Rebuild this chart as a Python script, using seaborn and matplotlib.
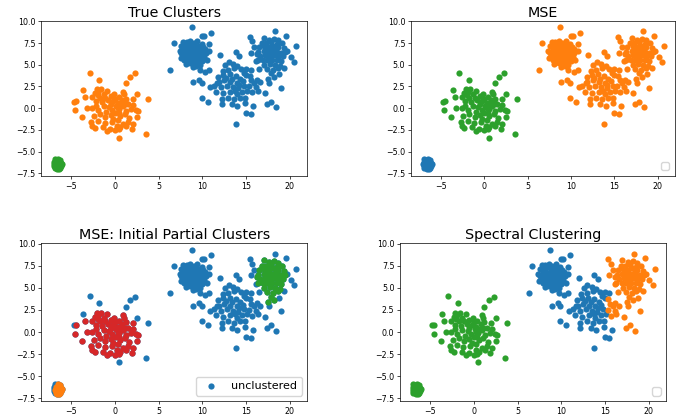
import numpy as np
import seaborn as sns
from matplotlib import pyplot as plt

# point clouds, (x, y) pairs
tiny_core = [
    (-6.7, -6.15), (-6.55, -6.1), (-6.35, -6.15), (-6.15, -6.3), (-6.5, -5.9),
    (-6.3, -6.0), (-6.8, -6.4), (-6.6, -6.35), (-6.4, -6.4), (-6.2, -6.5),
    (-6.05, -6.45), (-6.75, -6.65), (-6.55, -6.6), (-6.35, -6.7), (-6.15, -6.65),
    (-6.7, -6.85), (-6.5, -6.9), (-6.3, -6.85), (-6.6, -7.0), (-6.45, -6.5),
    (-6.65, -6.25), (-6.25, -6.3), (-6.85, -6.55), (-6.4, -7.0),
]
tiny_rim = [
    (-6.9, -5.9), (-6.95, -6.2), (-7.0, -6.45), (-6.95, -6.7), (-6.9, -6.9),
    (-6.75, -5.95),
]
center_core = [
    (-2.1, 2.2), (-1.6, 2.2), (-0.9, 2.0), (-1.9, 1.9), (-2.3, 1.7),
    (-2.6, 1.3), (-2.0, 1.5), (-1.3, 1.6), (-0.5, 1.4), (0.4, 1.3),
    (1.0, 1.6), (1.2, 1.1), (2.0, 1.0), (-0.1, 1.6), (-1.7, 1.2), (0.9, 1.9),
    (-4.5, 0.85), (-3.4, 1.3), (-2.2, 0.8), (-1.5, 0.7), (-0.8, 0.9),
    (-0.2, 0.8), (0.3, 0.6), (0.8, 0.9), (1.5, 0.5), (2.1, 0.4), (-1.1, 1.2),
    (0.0, 1.1), (-4.6, -0.25), (-3.2, 0.05), (-2.6, 0.0), (-1.9, -0.2),
    (-1.3, 0.2), (-0.7, 0.1), (-0.3, -0.2), (0.1, 0.3), (0.5, -0.1),
    (0.9, 0.2), (1.3, -0.3), (1.8, -0.1), (2.4, -0.25), (2.6, -0.3),
    (-1.0, -0.4), (0.3, 0.0), (0.7, 0.4), (-0.5, 0.5), (1.1, 0.5), (-2.2, 0.3),
    (-3.8, -1.0), (-2.4, -0.9), (-1.7, -0.7), (-1.1, -1.0), (-0.5, -0.8),
    (0.0, -0.6), (0.6, -0.9), (1.1, -0.7), (1.6, -1.1), (2.5, -1.05),
    (-0.2, -1.2), (0.4, -0.5), (-2.7, -1.6), (-1.9, -1.5), (-1.2, -1.7),
    (-0.4, -1.6), (0.3, -1.4), (0.9, -1.8), (1.5, -1.6), (-2.6, -2.0),
    (2.1, -1.8), (0.2, -2.0), (-2.3, -2.3), (-1.4, -2.2), (-0.6, -2.4),
    (0.0, -2.55), (0.4, -2.45), (1.3, -2.05), (1.9, -2.35), (-0.9, -2.6),
    (0.6, -2.2),
]
center_edge = [
    (-2.9, 4.1), (-1.8, 3.25), (-3.65, 2.05), (-4.75, 0.75), (1.7, 3.6),
    (2.3, 4.0), (1.2, 2.85), (2.5, 1.6), (3.8, 1.05), (3.6, -2.95), (0.5, -3.4),
]
left_blob = [
    (8.75, 9.3), (10.0, 8.25), (10.2, 8.25), (11.0, 8.7), (6.7, 7.45),
    (6.3, 4.45), (10.8, 7.35), (10.8, 6.55), (12.0, 6.1), (10.8, 4.4),
    (9.7, 4.4), (10.3, 4.15), (8.9, 3.0), (9.6, 3.3), (9.9, 2.9),
    (7.8, 7.6), (8.2, 7.6), (8.6, 7.7), (9.0, 7.5), (9.4, 7.7), (9.9, 7.4),
    (7.6, 7.1), (8.0, 7.2), (8.4, 7.3), (8.8, 7.1), (9.2, 7.2), (9.6, 7.1),
    (10.1, 7.0), (7.4, 6.6), (7.9, 6.8), (8.3, 6.8), (8.7, 6.7), (9.1, 6.8),
    (9.5, 6.7), (9.9, 6.6), (10.3, 6.8), (7.6, 6.3), (8.0, 6.4), (8.4, 6.4),
    (8.8, 6.3), (9.2, 6.4), (9.6, 6.3), (10.0, 6.2), (10.4, 6.3), (7.8, 5.9),
    (8.2, 6.0), (8.6, 6.0), (9.0, 5.9), (9.4, 6.0), (9.8, 5.8), (10.2, 5.9),
    (7.9, 5.5), (8.3, 5.6), (8.7, 5.5), (9.1, 5.6), (9.5, 5.4), (10.0, 5.4),
    (8.1, 5.1), (8.6, 5.2), (9.2, 5.1), (9.7, 5.0), (8.9, 4.7), (9.3, 4.9),
    (8.5, 6.6), (9.0, 6.1), (8.1, 6.9), (9.7, 6.9), (8.9, 5.2), (9.4, 6.5),
    (8.3, 5.3), (7.5, 5.8), (10.5, 5.6),
]
middle_west = [
    (13.8, 6.45), (14.2, 6.0), (13.0, 5.3), (12.6, 5.0), (13.5, 5.1),
    (14.0, 4.9), (12.3, 4.3), (12.9, 4.4), (13.6, 4.6), (14.4, 4.5),
    (15.0, 4.55), (14.7, 4.1), (15.5, 4.4), (11.8, 3.6), (12.4, 3.8),
    (13.1, 3.9), (13.8, 3.7), (14.3, 3.4), (15.0, 3.8), (11.9, 3.0),
    (12.5, 3.2), (13.2, 3.0), (13.9, 2.9), (14.6, 3.1), (11.3, 2.6),
    (12.1, 2.4), (12.8, 2.6), (13.5, 2.4), (14.1, 2.3), (14.8, 2.6),
    (11.6, 1.9), (12.4, 1.7), (13.2, 1.9), (13.9, 1.6), (14.5, 1.9),
    (15.1, 2.0), (12.2, 1.0), (12.9, 1.2), (13.6, 1.0), (14.3, 1.2),
    (14.9, 1.2), (12.2, 0.45), (14.9, 0.6), (15.0, -0.5), (15.5, -0.7),
    (13.8, -1.85), (15.8, 0.25), (10.9, 2.4), (9.9, 1.2), (10.6, 0.75),
    (13.4, 0.5), (14.0, 0.2), (11.7, 2.9), (12.7, 3.5), (13.7, 2.0),
    (14.2, 2.7), (13.4, 3.4),
]
middle_east = [
    (15.4, 3.7), (15.3, 2.5), (15.9, 2.9), (16.2, 3.3), (15.7, 1.85),
    (16.1, 2.4), (16.6, 3.0), (15.6, 3.2), (16.3, 2.0),
]
right_core = [
    (17.0, 8.1), (17.6, 7.9), (18.2, 8.0), (18.7, 7.8), (16.8, 7.5),
    (17.3, 7.5), (17.9, 7.6), (18.5, 7.4), (19.1, 7.5), (16.5, 7.0),
    (17.1, 7.1), (17.6, 7.0), (18.1, 7.2), (18.7, 7.0), (19.3, 6.9),
    (16.4, 6.5), (17.0, 6.6), (17.5, 6.5), (18.0, 6.6), (18.5, 6.5),
    (19.0, 6.4), (19.5, 6.5), (16.6, 6.0), (17.2, 6.1), (17.7, 6.0),
    (18.2, 6.1), (18.7, 5.9), (19.2, 6.0), (16.3, 5.5), (16.9, 5.6),
    (17.4, 5.5), (18.0, 5.5), (18.5, 5.6), (19.0, 5.4), (17.1, 5.0),
    (17.7, 5.1), (18.3, 5.0), (18.9, 4.9), (17.4, 4.5), (18.1, 4.4),
    (18.6, 4.6), (17.8, 4.0), (18.2, 3.6), (17.5, 3.4), (17.9, 6.3),
    (18.4, 6.9), (17.3, 6.8), (18.8, 6.2), (17.6, 5.8), (16.2, 6.2),
]
right_edge = [
    (18.3, 8.85), (19.6, 8.35), (20.7, 7.15), (20.5, 5.35), (20.1, 5.85),
    (19.0, 2.35), (18.4, 0.15), (17.4, 0.45), (17.9, 0.75), (17.2, 1.75),
    (15.4, 8.2), (15.7, 7.7), (15.5, 6.4), (16.1, 5.4), (17.6, 2.9),
    (19.7, 6.6), (16.5, 4.5), (15.9, 7.0), (19.3, 4.6), (18.8, 3.9),
]

titles = ["True Clusters", "MSE", "MSE: Initial Partial Clusters", "Spectral Clustering"]

C0, C1, C2, C3 = sns.color_palette("tab10")[:4]


def pts(*groups):
    arr = np.array([p for g in groups for p in g])
    return arr[:, 0], arr[:, 1]


def dots(ax, groups, color, label=None):
    x, y = pts(*groups)
    sns.scatterplot(x=x, y=y, color=color, s=20, linewidth=0, ax=ax, label=label)


fig = plt.figure(figsize=(6.86, 4.17), dpi=100)
boxes = [
    [0.060, 0.578, 0.388, 0.372],
    [0.599, 0.578, 0.385, 0.372],
    [0.060, 0.038, 0.388, 0.379],
    [0.583, 0.038, 0.388, 0.379],
]
axes = [fig.add_axes(b) for b in boxes]

# True clusters
dots(axes[0], [left_blob, middle_west, middle_east, right_core, right_edge], C0)
dots(axes[0], [center_core, center_edge], C1)
dots(axes[0], [tiny_core, tiny_rim], C2)

# MSE
dots(axes[1], [tiny_core, tiny_rim], C0)
dots(axes[1], [left_blob, middle_west, middle_east, right_core, right_edge], C1)
dots(axes[1], [center_core, center_edge], C2)
axes[1].legend(handles=[], loc="lower right", fontsize=8)

# initial partial clusters
dots(axes[2], [left_blob, middle_west, middle_east, right_core, right_edge,
               center_core, center_edge, tiny_core, tiny_rim], C0, label="unclustered")
dots(axes[2], [tiny_core], C1)
dots(axes[2], [right_core], C2)
dots(axes[2], [center_core], C3)
axes[2].legend(loc="lower right", fontsize=8)

# spectral
dots(axes[3], [left_blob, middle_west], C0)
dots(axes[3], [middle_east, right_core, right_edge], C1)
dots(axes[3], [center_core, center_edge, tiny_core, tiny_rim], C2)
axes[3].legend(handles=[], loc="lower right", fontsize=8)

for ax, title in zip(axes, titles):
    ax.set_title(title, fontsize=10.3, pad=3)
    ax.set_xlim(-8.45, 22.0)
    ax.set_ylim(-7.8, 10.05)
    ax.set_xticks([-5, 0, 5, 10, 15, 20])
    ax.set_yticks([-7.5, -5.0, -2.5, 0.0, 2.5, 5.0, 7.5, 10.0])
    ax.tick_params(labelsize=5.7, length=2, width=0.5, pad=2)
    for s in ax.spines.values():
        s.set_linewidth(0.5)

plt.savefig("out.png")
